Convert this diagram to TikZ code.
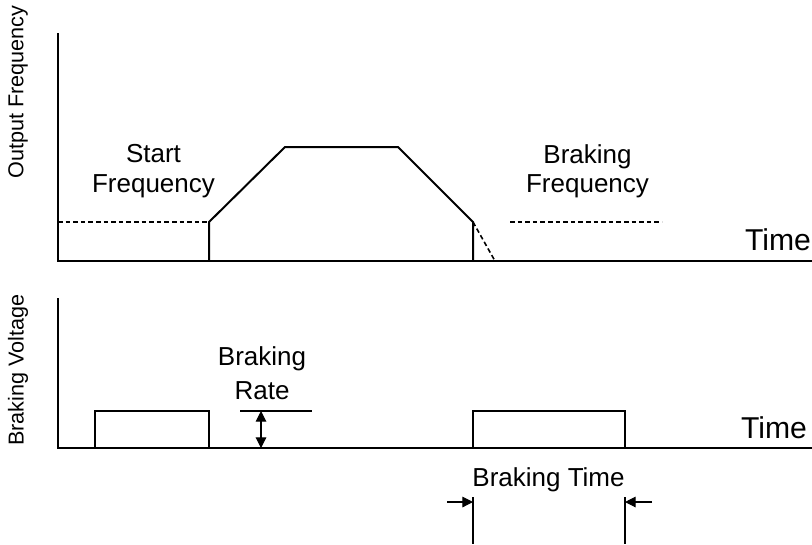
\documentclass[tikz,border=0pt]{standalone}
\usepackage{fontspec}
\setmainfont{Liberation Sans}
\usetikzlibrary{arrows.meta}
\begin{document}
\begin{tikzpicture}[x=0.75pt,y=-0.75pt,line width=1.5pt,
    lbl/.style={inner sep=0pt,align=center,font=\fontsize{19.5}{25.5}\selectfont},
    lbltight/.style={lbl,font=\fontsize{19.5}{22}\selectfont},
    timelbl/.style={inner sep=0pt,anchor=base west,font=\fontsize{22.6}{25}\selectfont},
    axlbl/.style={inner sep=0pt,rotate=90,font=\fontsize{16.2}{18}\selectfont},
    dsh/.style={line width=1.2pt,dash pattern=on 3.5pt off 2.2pt},
    dim/.style={line width=0.8pt},
    tip/.style={-{Triangle[length=8pt,width=8pt]}}]
\useasboundingbox (0,0) rectangle (812,544);
% output frequency
\coordinate (fo) at (58,261);
\coordinate (fs) at (209,222);
\coordinate (fb) at (473,222);
\draw (58,33) -- (fo) -- (812,261);
\draw[dsh] (58,222) -- (fs);
\draw (209,261) -- (fs) -- (285,147) -- (398,147) -- (fb) -- (473,261);
\draw[dsh] (fb) -- (495,261);
\draw[dsh] (510,222) -- (662,222);
\node[axlbl] (outf) at (18,92) {Output Frequency};
\node[lbltight] (startf) at (153.5,171) {Start\\Frequency};
\node[lbltight] (brakef) at (587.5,171) {Braking\\Frequency};
\node[timelbl] (time1) at (744,250) {Time};
% braking voltage
\coordinate (vo) at (58,448);
\draw (58,298) -- (vo) -- (812,448);
\draw (95,448) |- (209,411) -- (209,448);
\draw (473,448) |- (625,411) -- (625,448);
\node[axlbl] (bvolt) at (18,370) {Braking Voltage};
\node[timelbl] (time2) at (740,438) {Time};
% rate and time marks
\coordinate (ra) at (261,411);
\coordinate (rb) at (261,448);
\draw[dim] (240,411) -- (312,411);
\draw[dim,{Triangle[length=8pt,width=8pt]}-{Triangle[length=8pt,width=8pt]}] (ra) -- (rb);
\node[lbl] (rate) at (262,373) {Braking\\Rate};
\coordinate (ta) at (473,502);
\coordinate (tb) at (625,502);
\draw[dim] (473,497) -- (473,544) (625,497) -- (625,544);
\draw[dim,tip] (447,502) -- (ta);
\draw[dim,tip] (652,502) -- (tb);
\node[lbl,anchor=base] (btime) at (548.5,486) {Braking Time};
\end{tikzpicture}
\end{document}
